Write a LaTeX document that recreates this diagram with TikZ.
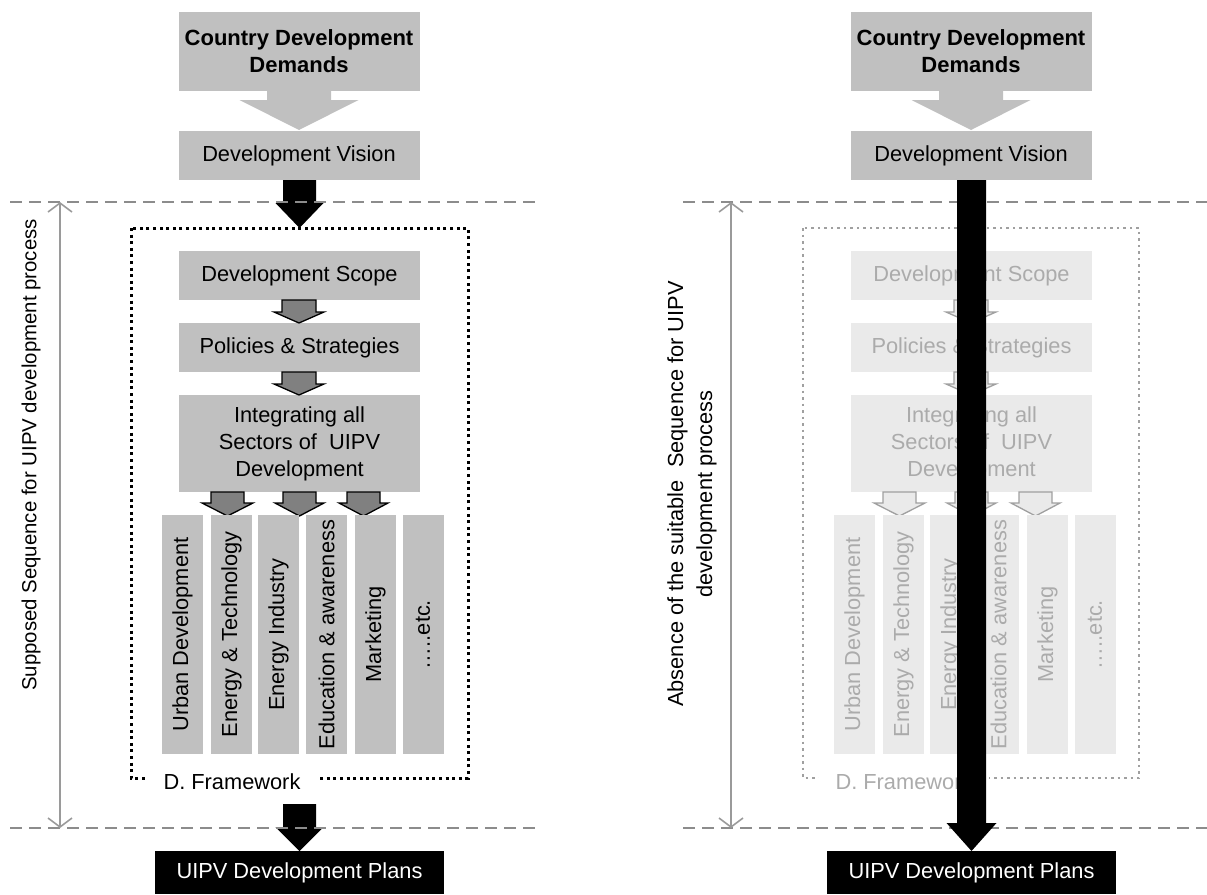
\documentclass[tikz,border=0pt]{standalone}
\usepackage{fontspec}
\setmainfont{Liberation Sans}
\usetikzlibrary{arrows.meta}
\definecolor{boxgray}{HTML}{C0C0C0}
\definecolor{dashgray}{HTML}{8C8C8C}
\definecolor{dimgray}{HTML}{9A9A9A}
\definecolor{fadefill}{HTML}{EAEAEA}
\definecolor{fadetext}{HTML}{ABABAB}
\definecolor{fadeline}{HTML}{A0A0A0}
\definecolor{arrowgray}{HTML}{808080}
\newcommand\blockarr[7]{% style, x, ytop, ybase, ytip, shaft half, head half
  \path[#1] (#2-#6,#3) -- (#2+#6,#3) -- (#2+#6,#4) -- (#2+#7,#4) -- (#2,#5)
    -- (#2-#7,#4) -- (#2-#6,#4) -- cycle;}
\begin{document}
\begin{tikzpicture}[x=1pt,y=-1pt,
  txt/.style={font=\fontsize{21.8}{27}\selectfont},
  gbox/.style={txt, fill=boxgray, inner sep=0pt, align=center, minimum width=241pt},
  fbox/.style={gbox, fill=fadefill, text=fadetext},
  colbox/.style={txt, fill=boxgray, inner sep=0pt, rotate=90, minimum width=239pt, minimum height=41pt},
  fcolbox/.style={colbox, fill=fadefill, text=fadetext},
  blackbox/.style={txt, fill=black, text=white, inner sep=0pt, minimum width=289pt, minimum height=43pt},
  bigarr/.style={fill=boxgray},
  blkarr/.style={fill=black},
  smallarr/.style={fill=arrowgray, draw=black, line width=1.3pt, line join=miter},
  fsmallarr/.style={fill=fadefill, draw=fadeline, line width=1.3pt},
  frameline/.style={draw=black, line width=3pt, dash pattern=on 3pt off 3.6pt},
  fframeline/.style={draw=fadeline, line width=2pt, dash pattern=on 2.5pt off 4pt},
  sepline/.style={draw=dashgray, line width=2.6pt, dash pattern=on 12pt off 7pt},
  dimline/.style={draw=dimgray, line width=1.6pt, {Straight Barb[length=9pt,width=24pt]}-{Straight Barb[length=9pt,width=24pt]}},
  lbl/.style={font=\fontsize{21.8}{29}\selectfont, align=center, rotate=90}
]
\useasboundingbox (0,0) rectangle (1207,894);

% ================= LEFT =================
\node[gbox, minimum height=79pt, font=\bfseries\fontsize{22}{27}\selectfont] (Lcdd) at (299,51.5) {Country Development\\Demands};
\node[gbox, minimum height=49pt] (Ldv) at (299,155.5) {Development Vision};
\blockarr{bigarr}{299}{91}{100}{130}{32}{59.5}
\blockarr{blkarr}{299.5}{180}{203}{228}{16.5}{24}

\path[frameline] (131,228) rectangle (468,778);
\node[txt, fill=white, inner xsep=17pt, inner ysep=3pt, anchor=base] (Lfw) at (232,789) {D. Framework};

\node[gbox, minimum height=49pt] (Lds) at (299.5,275.5) {Development Scope};
\node[gbox, minimum height=49pt] (Lps) at (299.5,347.5) {Policies \& Strategies};
\node[gbox, minimum height=97pt] (Lis) at (299.5,443.5) {Integrating all\\Sectors of\ \ UIPV\\Development};
\blockarr{smallarr}{299}{300}{312}{323}{17}{25}
\blockarr{smallarr}{299}{372}{384}{395}{17}{25}
\blockarr{smallarr}{227.5}{492}{503}{516}{16.5}{25.5}
\blockarr{smallarr}{299.5}{492}{503}{516}{16.5}{24.5}
\blockarr{smallarr}{363.5}{492}{503}{516}{16.5}{24.5}

\node[colbox] (Lc1) at (182.5,634.5) {Urban Development};
\node[colbox] (Lc2) at (231.5,634.5) {Energy \& Technology};
\node[colbox] (Lc3) at (278.5,634.5) {Energy Industry};
\node[colbox] (Lc4) at (326.5,634.5) {Education \& awareness};
\node[colbox] (Lc5) at (375.5,634.5) {Marketing};
\node[colbox] (Lc6) at (423,634.5) {\ldots..etc.};

\blockarr{blkarr}{299.5}{804}{827}{851}{16.5}{24}
\node[blackbox] (Lplan) at (299.5,872.5) {UIPV Development Plans};

\path[sepline] (10,202) -- (540,202);
\path[sepline] (10,828) -- (540,828);
\coordinate (Ldt) at (60,202);
\coordinate (Ldb) at (60,828);
\draw[dimline] (Ldb) -- (Ldt);
\node[lbl, font=\fontsize{20.4}{27}\selectfont] (Llbl) at (31,455) {Supposed Sequence for UIPV development process};

% ================= RIGHT =================
\node[gbox, minimum height=79pt, font=\bfseries\fontsize{22}{27}\selectfont] (Rcdd) at (971,51.5) {Country Development\\Demands};
\node[gbox, minimum height=49pt] (Rdv) at (971,155.5) {Development Vision};
\blockarr{bigarr}{971}{91}{100}{130}{32}{59.5}

\path[fframeline] (803,228) rectangle (1139,778);
\node[txt, text=fadetext, fill=white, inner xsep=17pt, inner ysep=3pt, anchor=base] (Rfw) at (904,789) {D. Framework};

\node[fbox, minimum height=49pt] (Rds) at (971.5,275.5) {Development Scope};
\node[fbox, minimum height=49pt] (Rps) at (971.5,347.5) {Policies \& Strategies};
\node[fbox, minimum height=97pt] (Ris) at (971.5,443.5) {Integrating all\\Sectors of\ \ UIPV\\Development};
\blockarr{fsmallarr}{971}{300}{312}{323}{17}{25}
\blockarr{fsmallarr}{971}{372}{384}{395}{17}{25}
\blockarr{fsmallarr}{899.5}{492}{503}{516}{16.5}{25.5}
\blockarr{fsmallarr}{971.5}{492}{503}{516}{16.5}{24.5}
\blockarr{fsmallarr}{1035.5}{492}{503}{516}{16.5}{24.5}

\node[fcolbox] (Rc1) at (854.5,634.5) {Urban Development};
\node[fcolbox] (Rc2) at (903.5,634.5) {Energy \& Technology};
\node[fcolbox] (Rc3) at (950.5,634.5) {Energy Industry};
\node[fcolbox] (Rc4) at (998.5,634.5) {Education \& awareness};
\node[fcolbox] (Rc5) at (1047.5,634.5) {Marketing};
\node[fcolbox] (Rc6) at (1095,634.5) {\ldots..etc.};

\path[sepline] (683,202) -- (1207,202);
\path[sepline] (683,828) -- (1207,828);
\blockarr{blkarr}{971.5}{180}{823}{851}{14.5}{25}
\node[blackbox] (Rplan) at (971.5,872.5) {UIPV Development Plans};

\coordinate (Rdt) at (731,202);
\coordinate (Rdb) at (731,828);
\draw[dimline] (Rdb) -- (Rdt);
\node[lbl] (Rlbl) at (692,494) {Absence of the suitable\ \ Sequence for UIPV\\development process};
\end{tikzpicture}
\end{document}
